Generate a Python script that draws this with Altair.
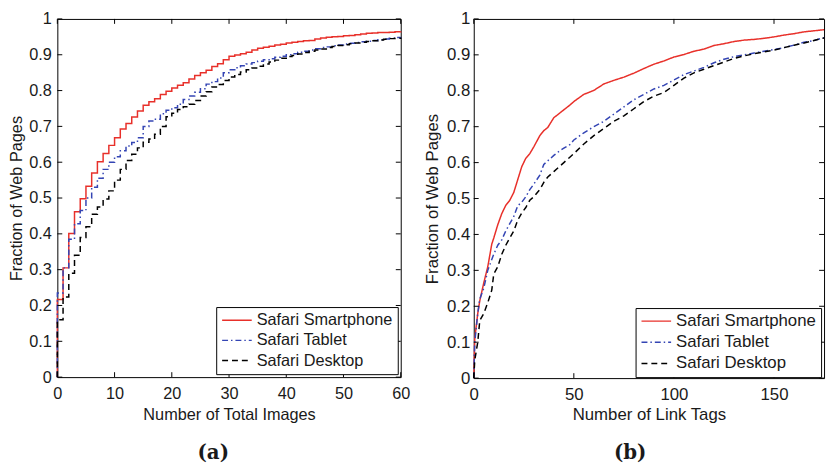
import altair as alt
import pandas as pd

SERIES = ["Safari Smartphone", "Safari Tablet", "Safari Desktop"]
COLORS = ["#e8302a", "#3445b4", "#000000"]
DASHES = [[1, 0], [6, 3, 1.5, 3], [6, 4]]

# ---------------- panel (a): Number of Total Images ----------------
a_x = list(range(0, 61))
a_smart = [0.217, 0.305, 0.401, 0.462, 0.498, 0.533, 0.570, 0.601, 0.624, 0.647,
           0.668, 0.693, 0.708, 0.726, 0.743, 0.759, 0.769, 0.777, 0.789, 0.798,
           0.807, 0.815, 0.822, 0.832, 0.842, 0.850, 0.857, 0.867, 0.875, 0.886,
           0.896, 0.899, 0.903, 0.907, 0.913, 0.918, 0.921, 0.924, 0.927, 0.929,
           0.933, 0.935, 0.937, 0.939, 0.940, 0.944, 0.947, 0.949, 0.950, 0.951,
           0.953, 0.954, 0.956, 0.958, 0.960, 0.961, 0.962, 0.962, 0.963, 0.964,
           0.965]
a_tablet = [0.235, 0.305, 0.385, 0.428, 0.465, 0.500, 0.530, 0.555, 0.580, 0.600,
            0.615, 0.632, 0.645, 0.655, 0.668, 0.700, 0.715, 0.720, 0.735, 0.745,
            0.752, 0.762, 0.775, 0.785, 0.795, 0.805, 0.818, 0.825, 0.835, 0.850,
            0.858, 0.864, 0.869, 0.874, 0.878, 0.882, 0.886, 0.889, 0.893, 0.896,
            0.900, 0.903, 0.907, 0.910, 0.913, 0.917, 0.920, 0.922, 0.925, 0.927,
            0.930, 0.932, 0.934, 0.936, 0.938, 0.940, 0.942, 0.944, 0.946, 0.948,
            0.949]
a_desktop = [0.160, 0.224, 0.290, 0.340, 0.390, 0.420, 0.455, 0.475, 0.497, 0.520,
             0.550, 0.580, 0.605, 0.622, 0.640, 0.656, 0.665, 0.678, 0.700, 0.727,
             0.737, 0.747, 0.755, 0.762, 0.772, 0.785, 0.797, 0.810, 0.817, 0.828,
             0.838, 0.845, 0.852, 0.858, 0.863, 0.868, 0.874, 0.880, 0.885, 0.890,
             0.895, 0.898, 0.902, 0.906, 0.910, 0.913, 0.916, 0.920, 0.923, 0.926,
             0.928, 0.931, 0.933, 0.935, 0.937, 0.939, 0.941, 0.943, 0.945, 0.946,
             0.948]
a_xticks = [0, 10, 20, 30, 40, 50, 60]

# ---------------- panel (b): Number of Link Tags ----------------
b_x = [0, 0.5, 2, 3, 5, 7, 9, 10, 12, 14,
       16, 18, 20, 22, 24, 26, 28, 30, 33, 35,
       37, 40, 43, 45, 48, 50, 55, 60, 65, 70,
       75, 80, 85, 90, 95, 100, 105, 110, 115, 120,
       125, 130, 135, 140, 145, 150, 155, 160, 165, 170,
       175]
b_smart = [0.0, 0.11, 0.18, 0.215, 0.265, 0.31, 0.373, 0.39, 0.427, 0.458,
           0.481, 0.495, 0.517, 0.553, 0.589, 0.612, 0.625, 0.644, 0.675, 0.689,
           0.698, 0.725, 0.738, 0.747, 0.760, 0.770, 0.790, 0.801, 0.819, 0.829,
           0.838, 0.849, 0.862, 0.874, 0.883, 0.894, 0.901, 0.910, 0.916, 0.926,
           0.931, 0.937, 0.941, 0.943, 0.946, 0.950, 0.955, 0.959, 0.964, 0.967,
           0.970]
b_tablet = [0.0, 0.10, 0.18, 0.22, 0.25, 0.30, 0.33, 0.345, 0.37, 0.385,
            0.41, 0.43, 0.45, 0.48, 0.49, 0.505, 0.525, 0.54, 0.565, 0.595,
            0.605, 0.62, 0.633, 0.64, 0.65, 0.663, 0.683, 0.70, 0.715, 0.735,
            0.755, 0.775, 0.79, 0.805, 0.815, 0.83, 0.845, 0.855, 0.865, 0.878,
            0.888, 0.895, 0.90, 0.905, 0.91, 0.915, 0.92, 0.927, 0.935, 0.94,
            0.948]
b_desktop = [0.0, 0.05, 0.10, 0.16, 0.18, 0.21, 0.245, 0.29, 0.31, 0.345,
             0.37, 0.39, 0.41, 0.44, 0.46, 0.475, 0.495, 0.505, 0.525, 0.545,
             0.56, 0.575, 0.59, 0.60, 0.615, 0.625, 0.652, 0.675, 0.695, 0.715,
             0.73, 0.75, 0.77, 0.785, 0.795, 0.815, 0.835, 0.85, 0.86, 0.87,
             0.88, 0.89, 0.897, 0.903, 0.908, 0.913, 0.92, 0.927, 0.933, 0.94,
             0.947]
b_xticks = [0, 50, 100, 150]

y_ticks = [0, 0.1, 0.2, 0.3, 0.4, 0.5, 0.6, 0.7, 0.8, 0.9, 1]

FONT = "Liberation Sans"
TXT = "#1a1a1a"


def build_df(xs, series_vals, start_zero):
    rows = []
    for name, vals in zip(SERIES, series_vals):
        if start_zero:
            rows.append({"x": xs[0], "y": 0.0, "series": name})
        for xv, yv in zip(xs, vals):
            rows.append({"x": xv, "y": yv, "series": name})
    return pd.DataFrame(rows)


def panel(df, xmax, xticks, xtitle, width, height, interp, fs, label_pad, title_pad,
          legend_w, caption, cap_dx):
    xs = alt.Scale(domain=[0, xmax], nice=False, zero=False)
    ys = alt.Scale(domain=[0, 1], nice=False)
    xaxis = alt.Axis(
        values=xticks, title=xtitle, grid=False, ticks=False, domain=False,
        labelFlush=False, labelPadding=9, titlePadding=4,
        labelFont=FONT, labelFontSize=fs, labelColor=TXT,
        titleFont=FONT, titleFontSize=fs, titleFontWeight="normal", titleColor=TXT)
    yaxis = alt.Axis(
        values=y_ticks, format="~g", title="Fraction of Web Pages", grid=False,
        ticks=False, domain=False, labelFlush=False, labelPadding=label_pad,
        titlePadding=title_pad,
        labelFont=FONT, labelFontSize=fs, labelColor=TXT,
        titleFont=FONT, titleFontSize=fs, titleFontWeight="normal", titleColor=TXT)
    leg = alt.Legend(
        title=None, orient="none",
        legendX=width - 5 - legend_w, legendY=height - 5 - 66,
        symbolType="stroke", symbolSize=900, symbolStrokeWidth=1.5,
        labelFont=FONT, labelFontSize=fs, labelColor=TXT,
        labelOffset=4, rowPadding=3.5, clipHeight=16.5,
        padding=5, strokeColor="black", fillColor="white",
        labelLimit=400,
    )
    lines = alt.Chart(df).mark_line(strokeWidth=1.5, interpolate=interp).encode(
        x=alt.X("x:Q", scale=xs, axis=xaxis),
        y=alt.Y("y:Q", scale=ys, axis=yaxis),
        color=alt.Color("series:N", scale=alt.Scale(domain=SERIES, range=COLORS), legend=leg),
        strokeDash=alt.StrokeDash("series:N", scale=alt.Scale(domain=SERIES, range=DASHES), legend=leg),
    )
    xt = pd.DataFrame({"x": xticks})
    yt = pd.DataFrame({"y": y_ticks})
    tl = 5
    bottom = alt.Chart(xt).mark_rule(color="black", strokeWidth=1).encode(
        x=alt.X("x:Q", scale=xs, axis=xaxis), y=alt.value(height), y2=alt.value(height - tl))
    top = alt.Chart(xt).mark_rule(color="black", strokeWidth=1).encode(
        x=alt.X("x:Q", scale=xs, axis=xaxis), y=alt.value(0), y2=alt.value(tl))
    left = alt.Chart(yt).mark_rule(color="black", strokeWidth=1).encode(
        y=alt.Y("y:Q", scale=ys, axis=yaxis), x=alt.value(0), x2=alt.value(tl))
    right = alt.Chart(yt).mark_rule(color="black", strokeWidth=1).encode(
        y=alt.Y("y:Q", scale=ys, axis=yaxis), x=alt.value(width), x2=alt.value(width - tl))
    return alt.layer(lines, bottom, top, left, right).properties(
        width=width, height=height,
        title=alt.TitleParams(caption, orient="bottom", anchor="middle", frame="group",
                              font="DejaVu Serif", fontSize=20, fontWeight="bold",
                              color=TXT, offset=21, dx=cap_dx),
    )


df_a = build_df(a_x, [a_smart, a_tablet, a_desktop], True)
df_b = build_df(b_x, [b_smart, b_tablet, b_desktop], False)

pa = panel(df_a, 60, a_xticks, "Number of Total Images", 348, 363, "step-after",
           16.5, 6, 4, 182, "(a)", -16)
pb = panel(df_b, 175, b_xticks, "Number of Link Tags", 355, 364, "linear",
           17, 4, 5, 186, "(b)", -19)

chart = alt.hconcat(pa, pb, spacing=74, bounds="flush").resolve_scale(
    color="independent", strokeDash="independent"
).resolve_legend(
    color="independent", strokeDash="independent"
).configure_view(
    stroke="black", strokeWidth=1
).properties(
    padding={"left": 0, "top": -2, "right": 0, "bottom": 0}
)

chart.save("out.html", embed_options={"renderer": "svg", "actions": False})
